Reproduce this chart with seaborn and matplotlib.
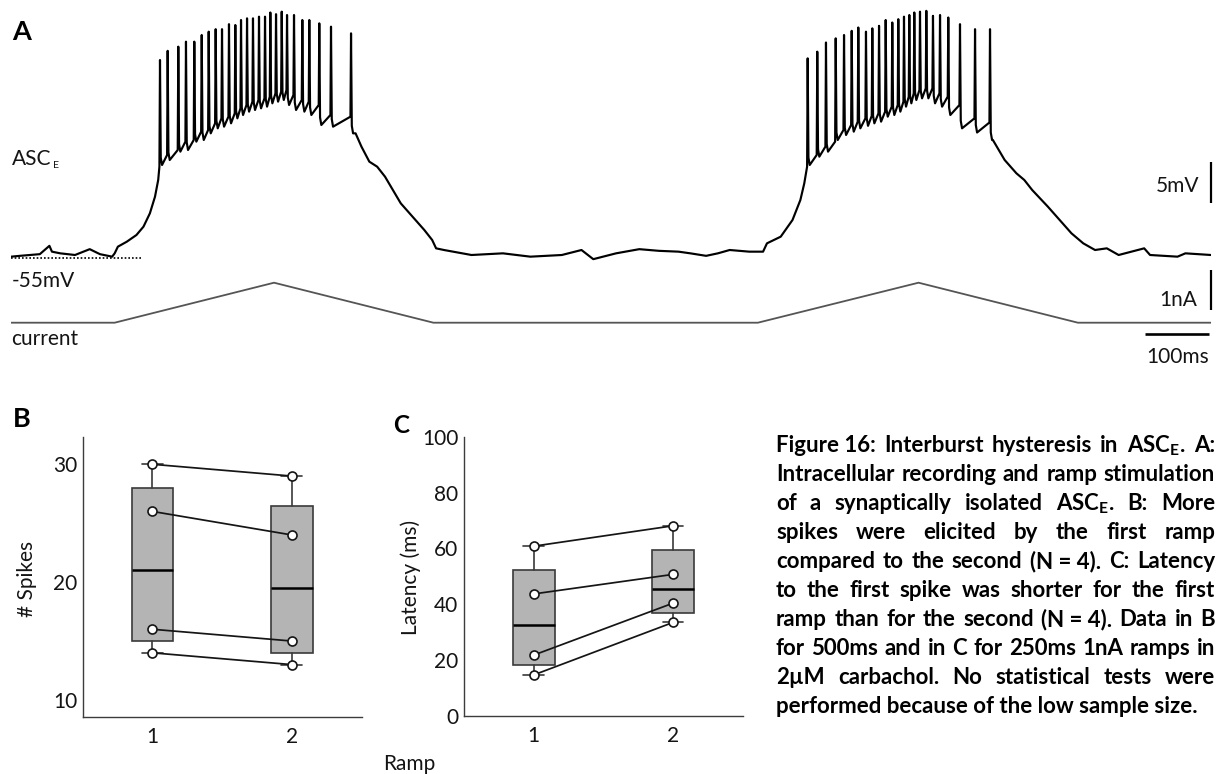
import matplotlib
matplotlib.use("Agg")
import numpy as np
import pandas as pd
import seaborn as sns
import matplotlib.pyplot as plt

W, H = 1217, 774

sns.set_style("white")
plt.rcParams["font.family"] = ["Lato", "DejaVu Sans"]

# ---------------- Panel A: membrane potential (mV) vs time (ms) ----------------
pre_t = [0, 14, 30, 45, 60, 64, 77, 100, 123, 139, 158, 162, 167, 181, 196, 207, 217, 225, 230]
pre_v = [-54.8, -54.7, -54.6, -54.5, -53.5, -54.2, -54.4, -54.6, -53.9, -54.5, -54.8, -54.4,
         -53.6, -53.0, -52.2, -51.2, -49.6, -47.6, -45.6]

burst1_t = [232.8, 244.8, 261.4, 273.4, 286.4, 298.0, 308.9, 319.8, 329.7, 340.6, 350.5, 359.4,
            368.8, 378.1, 387.5, 396.9, 405.2, 414.1, 423.0, 431.3, 442.2, 455.2, 466.1, 481.7,
            500.0, 531.3]
burst1_peak = [-31.2, -30.1, -29.6, -29.0, -29.0, -28.2, -27.8, -27.5, -27.5, -26.9, -27.0, -26.4,
               -26.2, -26.2, -26.0, -26.0, -25.5, -25.7, -25.4, -25.8, -25.8, -26.4, -26.4, -26.8,
               -27.2, -28.0]
burst1_trough = [-43.8, -43.2, -42.2, -42.0, -41.0, -40.8, -40.0, -39.4, -39.2, -38.8, -38.2, -37.8,
                 -37.4, -37.2, -37.0, -36.8, -36.4, -36.2, -36.0, -36.6, -37.2, -37.4, -37.8, -39.0,
                 -39.2, -40.0]

mid_t = [538.4, 547.6, 559.9, 572.1, 584.4, 596.7, 609.0, 627.4, 645.8, 658.1, 664.2, 676.5, 719.5,
         768.6, 811.5, 860.7, 891.4, 909.8, 945.4, 981.7, 1012.4, 1043.1, 1061.5, 1086.1, 1104.5,
         1122.9, 1153.6, 1175.1, 1181.2, 1202.7, 1221.1, 1233.4, 1239.5]
mid_v = [-40.0, -41.6, -43.4, -44.0, -45.2, -46.8, -48.4, -50.0, -51.6, -52.8, -53.8, -54.0, -54.6,
         -54.4, -54.8, -54.6, -54.0, -55.1, -54.4, -53.9, -54.1, -54.2, -54.4, -54.7, -54.4,
         -54.0, -54.2, -54.2, -53.2, -52.4, -50.4, -48.0, -46.0]

burst2_t = [1244.8, 1259.8, 1273.4, 1288.6, 1301.6, 1313.6, 1323.9, 1335.9, 1345.8, 1356.3, 1366.7,
            1377.0, 1386.4, 1395.3, 1403.6, 1411.4, 1420.3, 1430.2, 1440.6, 1451.6, 1464.5, 1482.8,
            1506.3, 1529.7]
burst2_peak = [-31.0, -30.2, -29.1, -28.6, -28.2, -27.7, -27.3, -27.8, -27.4, -27.1, -26.4, -26.7,
               -26.3, -26.0, -25.8, -25.5, -25.4, -25.3, -25.9, -25.8, -26.1, -26.9, -27.5, -27.5]
burst2_trough = [-43.8, -42.8, -42.2, -40.8, -40.2, -39.8, -39.4, -39.1, -38.8, -38.6, -38.0, -37.8,
                 -37.4, -36.8, -36.4, -36.0, -35.8, -35.8, -36.4, -36.8, -37.8, -39.4, -39.9, -40.8]

post_t = [1534.2, 1540.3, 1552.6, 1571.0, 1583.3, 1595.6, 1620.1, 1638.6, 1657.0, 1675.4, 1693.8,
          1712.2, 1730.7, 1770.6, 1779.8, 1822.7, 1835.0, 1875.0]
post_v = [-40.8, -41.6, -43.2, -44.8, -45.6, -46.8, -48.8, -50.4, -52.0, -53.2, -54.0, -53.8, -54.6,
          -53.8, -54.6, -54.8, -54.4, -54.6]

spike_onset_mv = -44.0
rest_mv = -55

# injected ramp current (nA)
current_t = [0, 162, 411, 660, 1167, 1418, 1667, 1875]
current_na = [0, 0, 1, 0, 0, 1, 0, 0]

scale_mv, scale_na, scale_ms = 5, 1, 100

# ---------------- Panels B and C ----------------
ramps = [1, 2]
spikes_r1 = [30, 26, 16, 14]
spikes_r2 = [29, 24, 15, 13]
latency_r1 = [60.8, 43.7, 21.8, 14.7]
latency_r2 = [68.1, 50.7, 40.4, 33.5]


def spike_train(times, peaks, troughs, onset):
    """Vertices of a spike burst: fast upstroke, peak, repolarisation, AHP trough."""
    ts, vs = [], []
    pre = onset
    for t, p, tr in zip(times, peaks, troughs):
        ts += [t - 0.9, t, t + 1.2, t + 3.2]
        vs += [pre, p, tr + 0.9, tr]
        pre = tr + 1.2
    return ts, vs


s1_t, s1_v = spike_train(burst1_t, burst1_peak, burst1_trough, spike_onset_mv)
s2_t, s2_v = spike_train(burst2_t, burst2_peak, burst2_trough, spike_onset_mv)
trace_t = np.array(pre_t + s1_t + mid_t + s2_t + post_t)
trace_v = np.array(pre_v + s1_v + mid_v + s2_v + post_v)

fig = plt.figure(figsize=(W / 100, H / 100), dpi=100)


def add_ax(x0, y0, x1, y1):
    return fig.add_axes([x0 / W, 1 - y1 / H, (x1 - x0) / W, (y1 - y0) / H])


def fx(x):
    return x / W


def fy(y):
    return 1 - y / H


INK = "#141414"
AX = "#3c3c3c"
FS = 15

# ---- voltage trace ----
axv = add_ax(11, 0, 1211, 265)
sns.lineplot(x=trace_t, y=trace_v, sort=False, estimator=None, color="black",
             linewidth=1.55, ax=axv)
axv.plot([0, 207], [rest_mv, rest_mv], color="black", linewidth=1.2,
         linestyle=(0, (1, 1.2)))
axv.set_xlim(0, 1875)
axv.set_ylim(-55.8, -24)
axv.plot([1875, 1875], [-48.4, -48.4 + scale_mv], color="black", linewidth=1.6,
         clip_on=False, solid_capstyle="butt")
axv.axis("off")

# ---- current trace ----
axi = add_ax(11, 270, 1211, 330)
sns.lineplot(x=current_t, y=current_na, sort=False, estimator=None, color="#555555",
             linewidth=1.3, ax=axi)
axi.set_xlim(0, 1875)
axi.set_ylim(-0.1825, 1.3175)
axi.plot([1875, 1875], [0.3175, 0.3175 + scale_na], color="black", linewidth=1.6,
         clip_on=False, solid_capstyle="butt")
axi.plot([1872 - scale_ms, 1872], [-0.2825, -0.2825], color="black", linewidth=1.9,
         clip_on=False, solid_capstyle="butt")
axi.axis("off")

# ---- panel A annotations ----
fig.text(fx(12.5), fy(40), "A", fontsize=19.5, fontweight="bold", color="black",
         ha="left", va="baseline")
asc = fig.text(fx(11.5), fy(165), "ASC", fontsize=FS, color=INK, ha="left", va="baseline")
fig.text(fx(11.5), fy(287), "-55mV", fontsize=FS, color=INK, ha="left", va="baseline")
fig.text(fx(11.5), fy(345), "current", fontsize=FS, color=INK, ha="left", va="baseline")
fig.text(fx(1199), fy(191.5), "5mV", fontsize=FS, color=INK, ha="right", va="baseline")
fig.text(fx(1197), fy(306.5), "1nA", fontsize=FS, color=INK, ha="right", va="baseline")
fig.text(fx(1209), fy(363), "100ms", fontsize=FS, color=INK, ha="right", va="baseline")

renderer = fig.canvas.get_renderer()
asc_box = asc.get_window_extent(renderer)
fig.text(fx(asc_box.x1 + 1.5), fy(168.3), "E", fontsize=7.5, color=INK, ha="left",
         va="baseline")


# ---- panels B and C ----
def box_stats(values):
    q1, med, q3 = np.percentile(values, [25, 50, 75], method="hazen")
    return dict(med=med, q1=q1, q3=q3, whislo=min(values), whishi=max(values), fliers=[])


def paired_panel(ax, first, second, ylim, major, minor):
    ax.bxp([box_stats(first), box_stats(second)], positions=ramps, widths=0.3,
           capwidths=0.15, showfliers=False, patch_artist=True, manage_ticks=False,
           boxprops=dict(facecolor="#b4b4b4", edgecolor="#3a3a3a", linewidth=1.2),
           medianprops=dict(color="black", linewidth=1.8),
           whiskerprops=dict(color="#3a3a3a", linewidth=1.2),
           capprops=dict(color="#3a3a3a", linewidth=1.2), zorder=2)
    n = len(first)
    df = pd.DataFrame({
        "cell": list(range(n)) * 2,
        "ramp": [ramps[0]] * n + [ramps[1]] * n,
        "value": list(first) + list(second),
    })
    sns.lineplot(data=df, x="ramp", y="value", units="cell", estimator=None,
                 color="#151515", linewidth=1.25, ax=ax, legend=False, zorder=3)
    sns.scatterplot(data=df, x="ramp", y="value", s=42, color="white",
                    edgecolor="#151515", linewidth=1.2, ax=ax, legend=False, zorder=4)
    ax.set_xlim(0.5, 2.5)
    ax.set_ylim(*ylim)
    ax.set_xticks(ramps)
    ax.set_xticklabels([str(r) for r in ramps])
    ax.set_yticks(major)
    ax.set_yticks(minor, minor=True)
    ax.set_xlabel("")
    ax.set_ylabel("")
    for side in ("top", "right"):
        ax.spines[side].set_visible(False)
    for side in ("left", "bottom"):
        ax.spines[side].set_color(AX)
        ax.spines[side].set_linewidth(1.0)
    ax.tick_params(which="both", direction="in", length=3, width=0.9, color=AX)
    ax.tick_params(axis="y", labelsize=FS, labelcolor=INK, pad=4.0)
    ax.tick_params(axis="x", labelsize=FS, labelcolor=INK, pad=7.4)
    ax.set_facecolor("none")
    ax.grid(False)


axB = add_ax(82.7, 437.3, 361.7, 716.7)
paired_panel(axB, spikes_r1, spikes_r2, (8.58, 32.29), [10, 20, 30], [15, 25])
axC = add_ax(464, 436.7, 742.7, 716)
paired_panel(axC, latency_r1, latency_r2, (0, 100), [0, 20, 40, 60, 80, 100],
             [10, 30, 50, 70, 90])

fig.text(fx(13.3), fy(426.7), "B", fontsize=19.5, fontweight="bold", color="black",
         ha="left", va="baseline")
fig.text(fx(393), fy(433), "C", fontsize=17.5, fontweight="bold", color="black",
         ha="left", va="baseline")
fig.text(fx(27.5), fy(579), "# Spikes", fontsize=FS, color=INK, rotation=90,
         ha="center", va="center")
fig.text(fx(411), fy(577), "Latency (ms)", fontsize=FS, color=INK, rotation=90,
         ha="center", va="center")
fig.text(fx(383), fy(770), "Ramp", fontsize=FS, color=INK, ha="left", va="baseline")

# ---- caption (justified block) ----
cap_left, cap_right = 776, 1215
cap_base, cap_step = 452.3, 29.0
caption_lines = [
    ["Figure 16:", "Interburst", "hysteresis", "in", r"ASC$_\mathregular{E}$.", "A:"],
    ["Intracellular", "recording", "and", "ramp", "stimulation"],
    ["of", "a", "synaptically", "isolated", r"ASC$_\mathregular{E}$.", "B:", "More"],
    ["spikes", "were", "elicited", "by", "the", "first", "ramp"],
    ["compared", "to", "the", "second", "(N = 4).", "C:", "Latency"],
    ["to", "the", "first", "spike", "was", "shorter", "for", "the", "first"],
    ["ramp", "than", "for", "the", "second", "(N = 4).", "Data", "in", "B"],
    ["for", "500ms", "and", "in", "C", "for", "250ms", "1nA", "ramps", "in"],
    ["2\u00b5M", "carbachol.", "No", "statistical", "tests", "were"],
]
caption_last = "performed because of the low sample size."

probe = fig.text(0, 0, caption_last, fontsize=14, fontweight="bold")
probe_w = probe.get_window_extent(renderer).width
probe.remove()
cap_fs = 14 * 424.0 / probe_w

for i, tokens in enumerate(caption_lines):
    y = cap_base + i * cap_step
    objs = [fig.text(fx(cap_left), fy(y), tok, fontsize=cap_fs, fontweight="bold",
                     color="black", ha="left", va="baseline") for tok in tokens]
    widths = [o.get_window_extent(renderer).width for o in objs]
    gap = (cap_right - cap_left - sum(widths)) / (len(objs) - 1)
    x = cap_left
    for o, w in zip(objs, widths):
        o.set_position((fx(x), fy(y)))
        x += w + gap
fig.text(fx(cap_left), fy(cap_base + len(caption_lines) * cap_step), caption_last,
         fontsize=cap_fs, fontweight="bold", color="black", ha="left", va="baseline")

fig.savefig("out.png", dpi=100, facecolor="white")
